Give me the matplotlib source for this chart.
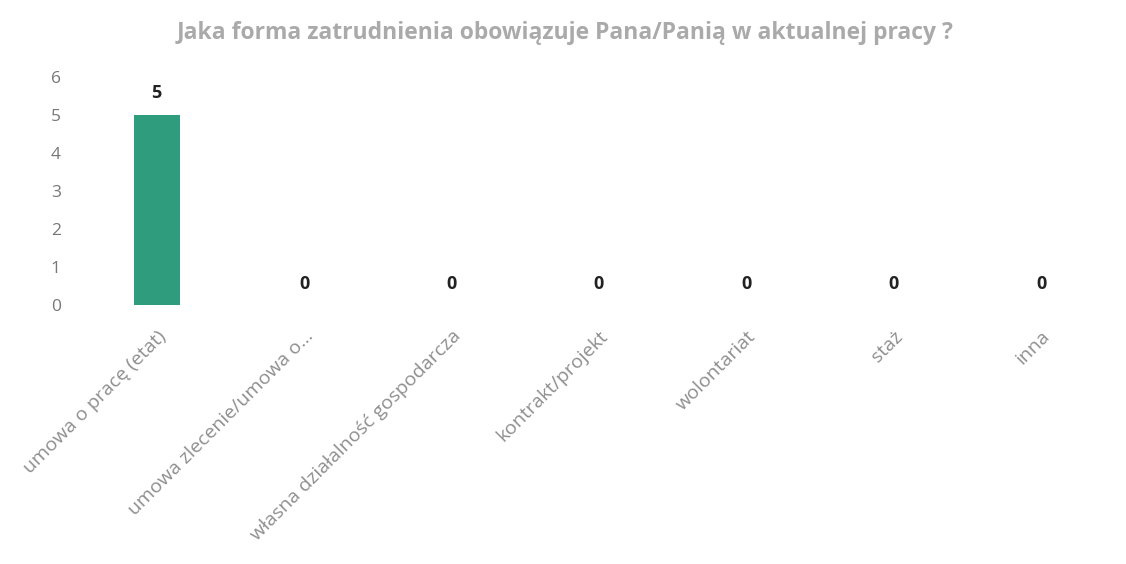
import matplotlib
matplotlib.use("Agg")
import matplotlib.pyplot as plt

categories = ["umowa o pracę (etat)", "umowa zlecenie/umowa o...", "własna działalność gospodarcza",
              "kontrakt/projekt", "wolontariat", "staż", "inna"]
values = [5, 0, 0, 0, 0, 0, 0]
yticks = [0, 1, 2, 3, 4, 5, 6]
title = "Jaka forma zatrudnienia obowiązuje Pana/Panią w aktualnej pracy ?"

fig = plt.figure(figsize=(11.26, 5.64), dpi=100)
ax = fig.add_axes([0.0737, 0.4592, 0.9163, 0.4043])
x = list(range(len(categories)))
bars = ax.bar(x, values, width=0.31, color="#2f9d7d")
ax.set_xlim(-0.5, len(categories) - 0.5)
ax.set_ylim(0, 6)
ax.set_yticks(yticks)
ax.set_yticklabels([str(t) for t in yticks], fontsize=12.5, color="#777777", family="Open Sans")
ax.tick_params(axis="y", length=0, pad=16)
ax.tick_params(axis="x", length=0, pad=16)
ax.set_xticks(x)
ax.set_xticklabels(categories, rotation=45, ha="right", rotation_mode="anchor",
                   fontsize=14, color="#8e8e8e", family="Open Sans")
for s in ax.spines.values():
    s.set_visible(False)
for xi, v in zip(x, values):
    ax.annotate(str(v), (xi, v), xytext=(0, 9), textcoords="offset points",
                ha="center", va="bottom", fontsize=13, fontweight="bold",
                color="#222222", family="Open Sans")
fig.text(0.502, 0.942, title, ha="center", va="center", fontsize=16.5,
         fontweight="bold", color="#aaaaaa", family="Open Sans")
fig.savefig("out.png", dpi=100, facecolor="white")
